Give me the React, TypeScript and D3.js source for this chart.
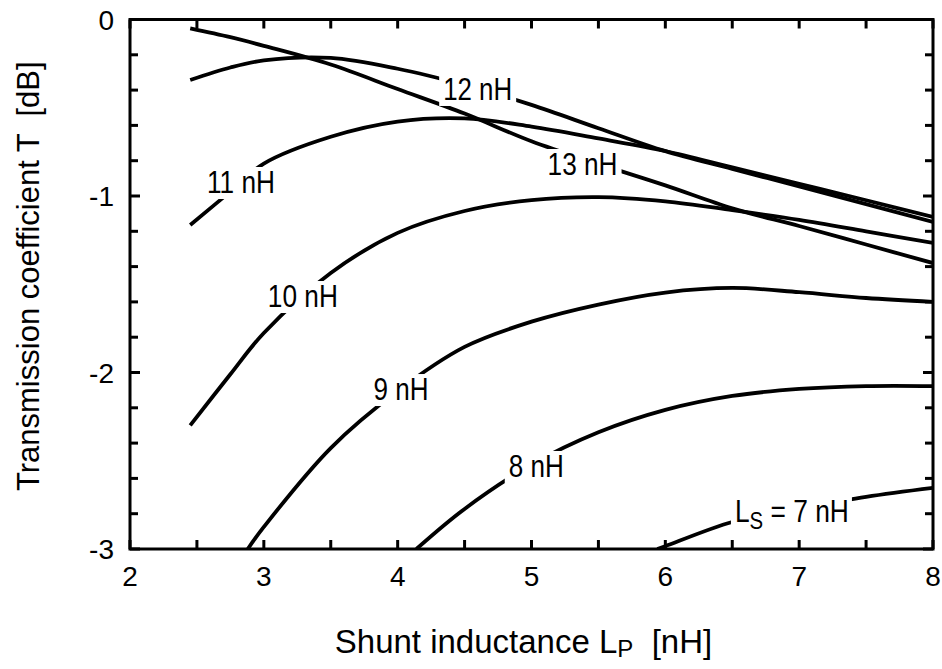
import React from "react";
import * as d3 from "d3";

// shunt inductance L_P [nH] sample points
const lpMain = [2.45, 2.75, 3, 3.5, 4, 4.5, 5, 5.5, 6, 6.5, 7, 7.5, 8];
const lp9 = [2.88, 3, 3.5, 4, 4.5, 5, 5.5, 6, 6.5, 7, 7.5, 8];
const lp8 = [4.14, 4.5, 5, 5.5, 6, 6.5, 7, 7.5, 8];
const lp7 = [5.94, 6, 6.5, 7, 7.5, 8];

// transmission coefficient T [dB] for each series inductance L_S
const t13 = [-0.05, -0.1, -0.149, -0.255, -0.394, -0.533, -0.69, -0.818, -0.94, -1.07, -1.17, -1.275, -1.38];
const t12 = [-0.343, -0.272, -0.232, -0.218, -0.279, -0.371, -0.484, -0.616, -0.746, -0.846, -0.946, -1.046, -1.147];
const t11 = [-1.164, -0.975, -0.816, -0.664, -0.578, -0.56, -0.607, -0.674, -0.745, -0.838, -0.931, -1.024, -1.119];
const t10 = [-2.3, -2.01, -1.776, -1.436, -1.209, -1.085, -1.023, -1.006, -1.03, -1.08, -1.135, -1.2, -1.266];
const t9 = [-3.0, -2.875, -2.428, -2.105, -1.855, -1.712, -1.615, -1.547, -1.521, -1.545, -1.578, -1.6];
const t8 = [-3.0, -2.773, -2.522, -2.339, -2.212, -2.133, -2.093, -2.077, -2.077];
const t7 = [-3.0, -2.984, -2.847, -2.773, -2.705, -2.654];

const xTickLabels = ["2", "3", "4", "5", "6", "7", "8"];
const yTickLabels = ["0", "-1", "-2", "-3"];

// curve labels: L_S value, anchor (left / baseline) in data units, width in px
const curveLabels = [
  { ls: "12", x: 4.34, y: -0.456, w: 69 },
  { ls: "13", x: 5.12, y: -0.881, w: 70 },
  { ls: "11", x: 2.575, y: -0.983, w: 68 },
  { ls: "10", x: 3.03, y: -1.629, w: 70 },
  { ls: "9", x: 3.82, y: -2.156, w: 55 },
  { ls: "8", x: 4.83, y: -2.592, w: 55 },
  { ls: "7", x: 6.52, y: -2.847, w: 113 },
];

const W = 942;
const H = 669;
const margin = { top: 19.5, right: 9, bottom: 120, left: 130 };
const FONT = "'Liberation Sans', Arial, sans-serif";

export default function App() {
  const x = d3.scaleLinear().domain([2, 8]).range([margin.left, W - margin.right]);
  const y = d3.scaleLinear().domain([-3, 0]).range([H - margin.bottom, margin.top]);

  const line = d3
    .line<[number, number]>()
    .x((d) => x(d[0]))
    .y((d) => y(d[1]))
    .curve(d3.curveCatmullRom.alpha(0.5));

  const series: [number[], number[]][] = [
    [lpMain, t13],
    [lpMain, t12],
    [lpMain, t11],
    [lpMain, t10],
    [lp9, t9],
    [lp8, t8],
    [lp7, t7],
  ];

  const xMinor = d3.range(2, 8.001, 0.5);
  const yMinor = d3.range(-3, 0.001, 0.2);
  const x0 = x(2), x1 = x(8), y0 = y(0), y1 = y(-3);

  return (
    <svg
      width={W}
      height={H}
      style={{ position: "absolute", left: 0, top: 0, background: "#fff" }}
      fontFamily={FONT}
    >
      <defs>
        <clipPath id="plot">
          <rect x={x0} y={y0} width={x1 - x0} height={y1 - y0} />
        </clipPath>
      </defs>

      <g clipPath="url(#plot)">
        {series.map(([xs, ys], i) => (
          <path
            key={i}
            d={line(xs.map((v, j) => [v, ys[j]]) as [number, number][]) || ""}
            fill="none"
            stroke="#000"
            strokeWidth={3.8}
            strokeLinejoin="round"
          />
        ))}
      </g>

      {/* curve labels, with a white box cutting the line */}
      {curveLabels.map((l, i) => (
        <g key={i}>
          <rect x={x(l.x) - 4} y={y(l.y) - 26} width={l.w + 8} height={32} fill="#fff" />
          {l.ls === "7" ? (
            <text
              transform={`translate(${x(l.x)}, ${y(l.y)}) scale(0.85, 1)`}
              fontSize={31}
              style={{ whiteSpace: "pre" }}
            >
              L<tspan fontSize={24} dy={7}>S</tspan>
              <tspan dy={-7}>{" = 7 nH"}</tspan>
            </text>
          ) : (
            <text x={x(l.x)} y={y(l.y)} fontSize={31} textLength={l.w} lengthAdjust="spacingAndGlyphs">
              {`${l.ls} nH`}
            </text>
          )}
        </g>
      ))}

      {/* frame */}
      <rect x={x0} y={y0} width={x1 - x0} height={y1 - y0} fill="none" stroke="#000" strokeWidth={3} />

      {/* x ticks (bottom and top, inward) */}
      {xMinor.map((v) => (
        <g key={"x" + v} stroke="#000" strokeWidth={3}>
          <line x1={x(v)} x2={x(v)} y1={y1} y2={y1 - 9} />
          <line x1={x(v)} x2={x(v)} y1={y0} y2={y0 + 9} />
        </g>
      ))}
      {/* y ticks (left and right, inward) */}
      {yMinor.map((v, i) => {
        const len = i % 5 === 0 ? 10 : 8;
        return (
          <g key={"y" + i} stroke="#000" strokeWidth={3}>
            <line x1={x0} x2={x0 + len} y1={y(v)} y2={y(v)} />
            <line x1={x1} x2={x1 - len} y1={y(v)} y2={y(v)} />
          </g>
        );
      })}

      {/* tick labels */}
      {xTickLabels.map((t) => (
        <text key={"xl" + t} x={x(+t)} y={y1 + 37} fontSize={28} textAnchor="middle">
          {t}
        </text>
      ))}
      {yTickLabels.map((t) => (
        <text key={"yl" + t} x={x0 - 16} y={y(+t) + 10} fontSize={28} textAnchor="end">
          {t}
        </text>
      ))}

      {/* axis titles */}
      <text x={(x0 + x1) / 2 - 8} y={y1 + 104} fontSize={33} textAnchor="middle" style={{ whiteSpace: "pre" }}>
        Shunt inductance L<tspan fontSize={24} dy={4}>P</tspan>
        <tspan dy={-4}>{"  [nH]"}</tspan>
      </text>
      <text
        transform={`translate(39, ${(y0 + y1) / 2 - 8}) rotate(-90)`}
        fontSize={31}
        textAnchor="middle"
        style={{ whiteSpace: "pre" }}
      >
        {"Transmission coefficient T  [dB]"}
      </text>
    </svg>
  );
}
